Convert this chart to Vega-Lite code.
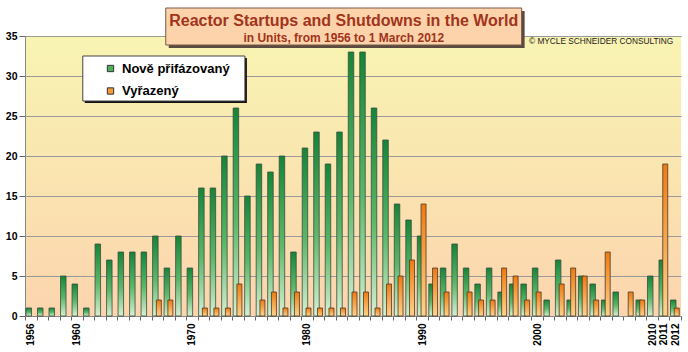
{
  "$schema": "https://vega.github.io/schema/vega-lite/v6.json",
  "width": 656,
  "height": 280,
  "autosize": "none",
  "padding": {"left": 25, "top": 36, "right": 7, "bottom": 36},
  "background": "white",
  "view": {"stroke": null, "fill": {"gradient": "linear", "x1": 0, "y1": 0, "x2": 0, "y2": 1, "stops": [{"offset": 0, "color": "#f8f4b2"}, {"offset": 1, "color": "#fcd4ae"}]}},
  "config": {
    "axisX": {
      "title": null, "labelAngle": -90, "labelAlign": "right", "labelBaseline": "middle",
      "labelFont": "Liberation Sans", "labelFontSize": 10, "labelFontWeight": "bold", "labelColor": "#000",
      "labelPadding": 3, "tickBand": "extent", "tickSize": 4, "tickColor": "#666", "domainColor": "#888", "grid": false,
      "labelExpr": "indexof(['1956','1960','1970','1980','1990','2000','2010','2011','2012'], datum.value) >= 0 ? datum.label : ''"
    },
    "axisY": {
      "title": null, "tickCount": 7,
      "labelFont": "Liberation Sans", "labelFontSize": 10.5, "labelFontWeight": "bold", "labelColor": "#000",
      "labelPadding": 2, "tickSize": 6, "tickColor": "#666", "domainColor": "#888",
      "grid": true, "gridColor": "#9a9a9a", "gridWidth": 1
    }
  },
  "data": {"values": [
    {"year": "1956", "type": "Nově přifázovaný", "units": 1},
    {"year": "1957", "type": "Nově přifázovaný", "units": 1},
    {"year": "1958", "type": "Nově přifázovaný", "units": 1},
    {"year": "1959", "type": "Nově přifázovaný", "units": 5},
    {"year": "1960", "type": "Nově přifázovaný", "units": 4},
    {"year": "1961", "type": "Nově přifázovaný", "units": 1},
    {"year": "1962", "type": "Nově přifázovaný", "units": 9},
    {"year": "1963", "type": "Nově přifázovaný", "units": 7},
    {"year": "1964", "type": "Nově přifázovaný", "units": 8},
    {"year": "1965", "type": "Nově přifázovaný", "units": 8},
    {"year": "1966", "type": "Nově přifázovaný", "units": 8},
    {"year": "1967", "type": "Nově přifázovaný", "units": 10},
    {"year": "1968", "type": "Nově přifázovaný", "units": 6},
    {"year": "1969", "type": "Nově přifázovaný", "units": 10},
    {"year": "1970", "type": "Nově přifázovaný", "units": 6},
    {"year": "1971", "type": "Nově přifázovaný", "units": 16},
    {"year": "1972", "type": "Nově přifázovaný", "units": 16},
    {"year": "1973", "type": "Nově přifázovaný", "units": 20},
    {"year": "1974", "type": "Nově přifázovaný", "units": 26},
    {"year": "1975", "type": "Nově přifázovaný", "units": 15},
    {"year": "1976", "type": "Nově přifázovaný", "units": 19},
    {"year": "1977", "type": "Nově přifázovaný", "units": 18},
    {"year": "1978", "type": "Nově přifázovaný", "units": 20},
    {"year": "1979", "type": "Nově přifázovaný", "units": 8},
    {"year": "1980", "type": "Nově přifázovaný", "units": 21},
    {"year": "1981", "type": "Nově přifázovaný", "units": 23},
    {"year": "1982", "type": "Nově přifázovaný", "units": 19},
    {"year": "1983", "type": "Nově přifázovaný", "units": 23},
    {"year": "1984", "type": "Nově přifázovaný", "units": 33},
    {"year": "1985", "type": "Nově přifázovaný", "units": 33},
    {"year": "1986", "type": "Nově přifázovaný", "units": 26},
    {"year": "1987", "type": "Nově přifázovaný", "units": 22},
    {"year": "1988", "type": "Nově přifázovaný", "units": 14},
    {"year": "1989", "type": "Nově přifázovaný", "units": 12},
    {"year": "1990", "type": "Nově přifázovaný", "units": 10},
    {"year": "1991", "type": "Nově přifázovaný", "units": 4},
    {"year": "1992", "type": "Nově přifázovaný", "units": 6},
    {"year": "1993", "type": "Nově přifázovaný", "units": 9},
    {"year": "1994", "type": "Nově přifázovaný", "units": 6},
    {"year": "1995", "type": "Nově přifázovaný", "units": 4},
    {"year": "1996", "type": "Nově přifázovaný", "units": 6},
    {"year": "1997", "type": "Nově přifázovaný", "units": 3},
    {"year": "1998", "type": "Nově přifázovaný", "units": 4},
    {"year": "1999", "type": "Nově přifázovaný", "units": 4},
    {"year": "2000", "type": "Nově přifázovaný", "units": 6},
    {"year": "2001", "type": "Nově přifázovaný", "units": 2},
    {"year": "2002", "type": "Nově přifázovaný", "units": 7},
    {"year": "2003", "type": "Nově přifázovaný", "units": 2},
    {"year": "2004", "type": "Nově přifázovaný", "units": 5},
    {"year": "2005", "type": "Nově přifázovaný", "units": 4},
    {"year": "2006", "type": "Nově přifázovaný", "units": 2},
    {"year": "2007", "type": "Nově přifázovaný", "units": 3},
    {"year": "2009", "type": "Nově přifázovaný", "units": 2},
    {"year": "2010", "type": "Nově přifázovaný", "units": 5},
    {"year": "2011", "type": "Nově přifázovaný", "units": 7},
    {"year": "2012", "type": "Nově přifázovaný", "units": 2},
    {"year": "1967", "type": "Vyřazený", "units": 2},
    {"year": "1968", "type": "Vyřazený", "units": 2},
    {"year": "1971", "type": "Vyřazený", "units": 1},
    {"year": "1972", "type": "Vyřazený", "units": 1},
    {"year": "1973", "type": "Vyřazený", "units": 1},
    {"year": "1974", "type": "Vyřazený", "units": 4},
    {"year": "1976", "type": "Vyřazený", "units": 2},
    {"year": "1977", "type": "Vyřazený", "units": 3},
    {"year": "1978", "type": "Vyřazený", "units": 1},
    {"year": "1979", "type": "Vyřazený", "units": 3},
    {"year": "1980", "type": "Vyřazený", "units": 1},
    {"year": "1981", "type": "Vyřazený", "units": 1},
    {"year": "1982", "type": "Vyřazený", "units": 1},
    {"year": "1983", "type": "Vyřazený", "units": 1},
    {"year": "1984", "type": "Vyřazený", "units": 3},
    {"year": "1985", "type": "Vyřazený", "units": 3},
    {"year": "1986", "type": "Vyřazený", "units": 1},
    {"year": "1987", "type": "Vyřazený", "units": 4},
    {"year": "1988", "type": "Vyřazený", "units": 5},
    {"year": "1989", "type": "Vyřazený", "units": 7},
    {"year": "1990", "type": "Vyřazený", "units": 14},
    {"year": "1991", "type": "Vyřazený", "units": 6},
    {"year": "1992", "type": "Vyřazený", "units": 3},
    {"year": "1994", "type": "Vyřazený", "units": 3},
    {"year": "1995", "type": "Vyřazený", "units": 2},
    {"year": "1996", "type": "Vyřazený", "units": 2},
    {"year": "1997", "type": "Vyřazený", "units": 6},
    {"year": "1998", "type": "Vyřazený", "units": 5},
    {"year": "1999", "type": "Vyřazený", "units": 2},
    {"year": "2000", "type": "Vyřazený", "units": 3},
    {"year": "2002", "type": "Vyřazený", "units": 4},
    {"year": "2003", "type": "Vyřazený", "units": 6},
    {"year": "2004", "type": "Vyřazený", "units": 5},
    {"year": "2005", "type": "Vyřazený", "units": 2},
    {"year": "2006", "type": "Vyřazený", "units": 8},
    {"year": "2008", "type": "Vyřazený", "units": 3},
    {"year": "2009", "type": "Vyřazený", "units": 2},
    {"year": "2011", "type": "Vyřazený", "units": 19},
    {"year": "2012", "type": "Vyřazený", "units": 1}
  ]},
  "layer": [
    {
      "transform": [{"filter": "datum.type === 'Nově přifázovaný'"}],
      "mark": {"type": "bar", "size": 5.5, "xOffset": -2, "stroke": "#3d4a3d", "strokeWidth": 0.8,
        "color": {"gradient": "linear", "x1": 0, "y1": 0, "x2": 0, "y2": 1, "stops": [{"offset": 0, "color": "#148537"}, {"offset": 0.55, "color": "#5cb86a"}, {"offset": 1, "color": "#d6f1d3"}]}},
      "encoding": {
        "x": {"field": "year", "type": "ordinal", "scale": {"paddingInner": 0, "paddingOuter": 0}},
        "y": {"field": "units", "type": "quantitative", "scale": {"domain": [0, 35], "nice": false}}
      }
    },
    {
      "transform": [{"filter": "datum.type === 'Vyřazený'"}],
      "mark": {"type": "bar", "size": 5, "xOffset": 1.5, "stroke": "#4a3a2a", "strokeWidth": 0.8,
        "color": {"gradient": "linear", "x1": 0, "y1": 0, "x2": 0, "y2": 1, "stops": [{"offset": 0, "color": "#f07a10"}, {"offset": 1, "color": "#fed38a"}]}},
      "encoding": {
        "x": {"field": "year", "type": "ordinal"},
        "y": {"field": "units", "type": "quantitative"}
      }
    },
    {
      "transform": [{"filter": "false"}],
      "mark": {"type": "bar", "size": 5},
      "encoding": {
        "x": {"field": "year", "type": "ordinal"},
        "y": {"field": "units", "type": "quantitative"},
        "color": {
          "field": "type", "type": "nominal",
          "scale": {"domain": ["Nově přifázovaný", "Vyřazený"], "range": ["#4fae5e", "#f5983a"]},
          "legend": {
            "orient": "none", "legendX": 79, "legendY": 26, "title": null,
            "labelFont": "Liberation Sans", "labelFontSize": 13, "labelFontWeight": "bold", "labelColor": "#000",
            "symbolType": "square", "symbolSize": 40, "symbolStrokeColor": "#333", "symbolStrokeWidth": 1,
            "rowPadding": 8.5, "labelOffset": 5, "padding": 0
          }
        }
      }
    },
    {
      "data": {"values": [{"note": "title"}]},
      "mark": {"type": "rect", "fill": "#5a4a40", "xOffset": 11.4, "x2Offset": -1, "yOffset": 3, "y2Offset": 3},
      "encoding": {"x": {"datum": "1967"}, "x2": {"datum": "1999"}, "y": {"datum": 38.5}, "y2": {"datum": 33.875}}
    },
    {
      "data": {"values": [{"note": "title"}]},
      "mark": {"type": "rect", "fill": "#fcd3aa", "stroke": "#7a5a48", "strokeWidth": 1, "xOffset": 8.4, "x2Offset": -4},
      "encoding": {"x": {"datum": "1967"}, "x2": {"datum": "1999"}, "y": {"datum": 38.5}, "y2": {"datum": 33.875}}
    },
    {
      "data": {"values": [{"note": "title"}]},
      "mark": {"type": "text", "text": "Reactor Startups and Shutdowns in the World", "font": "Liberation Sans", "fontSize": 16, "fontWeight": "bold", "color": "#a3341c", "align": "center", "baseline": "middle", "dx": 2.3},
      "encoding": {"x": {"datum": "1983"}, "y": {"datum": 36.9}}
    },
    {
      "data": {"values": [{"note": "title"}]},
      "mark": {"type": "text", "text": "in Units, from 1956 to 1 March 2012", "font": "Liberation Sans", "fontSize": 12, "fontWeight": "bold", "color": "#a3341c", "align": "center", "baseline": "middle", "dx": 2.3},
      "encoding": {"x": {"datum": "1983"}, "y": {"datum": 34.8}}
    },
    {
      "data": {"values": [{"note": "title"}]},
      "mark": {"type": "text", "text": "© MYCLE SCHNEIDER CONSULTING", "font": "Liberation Sans", "fontSize": 8.3, "color": "#222", "align": "right", "baseline": "middle", "dx": -2},
      "encoding": {"x": {"datum": "2012"}, "y": {"datum": 34.25}}
    },
    {
      "data": {"values": [{"note": "legend"}]},
      "mark": {"type": "rect", "fill": "#111", "xOffset": 8, "x2Offset": 9, "yOffset": 2, "y2Offset": 2},
      "encoding": {"x": {"datum": "1960"}, "x2": {"datum": "1974"}, "y": {"datum": 32.5}, "y2": {"datum": 26.875}}
    },
    {
      "data": {"values": [{"note": "legend"}]},
      "mark": {"type": "rect", "fill": "white", "stroke": "#444", "strokeWidth": 1, "xOffset": 6, "x2Offset": 7},
      "encoding": {"x": {"datum": "1960"}, "x2": {"datum": "1974"}, "y": {"datum": 32.5}, "y2": {"datum": 26.875}}
    }
  ]
}
